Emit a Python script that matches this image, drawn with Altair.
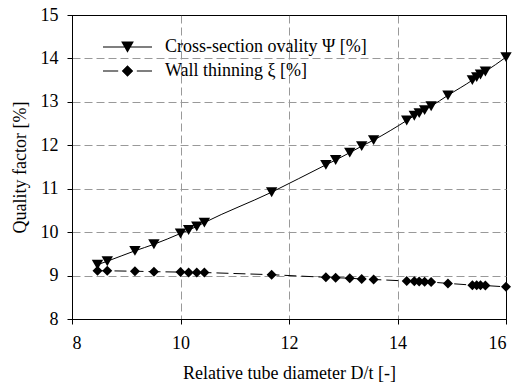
import altair as alt
import pandas as pd

# Relative tube diameter D/t
dt = [8.47, 8.65, 9.16, 9.51, 10.0, 10.15, 10.30, 10.44, 11.68, 12.68, 12.86, 13.12,
      13.34, 13.56, 14.17, 14.31, 14.40, 14.50, 14.62, 14.93, 15.38, 15.46, 15.53,
      15.62, 16.0]
# Cross-section ovality [%]
ovality = [9.25, 9.33, 9.57, 9.72, 9.97, 10.05, 10.13, 10.22, 10.92, 11.55, 11.66,
           11.83, 11.98, 12.12, 12.57, 12.68, 12.74, 12.81, 12.90, 13.15, 13.50, 13.57,
           13.63, 13.70, 14.03]
# Wall thinning [%]
thinning = [9.11, 9.11, 9.10, 9.09, 9.08, 9.07, 9.07, 9.07, 9.02, 8.96, 8.95, 8.94,
            8.92, 8.91, 8.875, 8.87, 8.865, 8.86, 8.85, 8.82, 8.78, 8.78, 8.775, 8.77,
            8.74]

series_names = ["Cross-section ovality \u03a8 [%]", "Wall thinning \u03be [%]"]
x_ticks = [8, 10, 12, 14, 16]
y_ticks = [8, 9, 10, 11, 12, 13, 14, 15]

FONT = "Liberation Serif"

df = pd.DataFrame({
    "dt": dt * 2,
    "value": ovality + thinning,
    "series": [series_names[0]] * len(dt) + [series_names[1]] * len(dt),
})


def frame_cond(lo, hi, inner, edge):
    # grid lines lying on the frame are drawn solid black, inner ones dashed grey
    return {"condition": {"test": f"datum.value == {lo} || datum.value == {hi}",
                          "value": edge}, "value": inner}


x = alt.X("dt:Q", scale=alt.Scale(domain=[8, 16], nice=False),
          axis=alt.Axis(values=x_ticks, title="Relative tube diameter D/t [-]",
                        labelFont=FONT, titleFont=FONT,
                        gridColor=frame_cond(8, 16, "#999999", "black"),
                        gridDash=frame_cond(8, 16, [8, 4], [1, 0])))
y = alt.Y("value:Q", scale=alt.Scale(domain=[8, 15], nice=False),
          axis=alt.Axis(values=y_ticks, title="Quality factor [%]",
                        labelFont=FONT, titleFont=FONT,
                        gridColor=frame_cond(8, 15, "#999999", "black"),
                        gridDash=frame_cond(8, 15, [8, 4], [1, 0])))

base = alt.Chart(df)
ov = base.transform_filter(alt.datum.series == series_names[0])
th = base.transform_filter(alt.datum.series == series_names[1])

ov_line = ov.mark_line(color="black", strokeWidth=1, interpolate="monotone").encode(x=x, y=y)
th_line = th.mark_line(color="black", strokeWidth=1, strokeDash=[12, 5]).encode(x=x, y=y)

tri = ov.mark_point(shape="triangle-down", size=130, filled=True, color="black",
                    opacity=1).encode(x=x, y=y)
dia = th.mark_point(shape="diamond", size=100, filled=True, color="black",
                    opacity=1).encode(x=x, y=y)

# Legend symbols: thin filled bars for the line plus the marker, one path each
tri_path = ("M-1,-0.022H1V0.022H-1Z"
            "M-0.26,-0.22H0.26L0,0.23Z")
dia_path = ("M-1,-0.022H-0.38V0.022H-1Z"
            "M0.38,-0.022H1V0.022H0.38Z"
            "M0,-0.235L0.235,0L0,0.235L-0.235,0Z")

legend_layer = base.mark_point(
    filled=True, color="black", opacity=0
).encode(
    x=x, y=y,
    shape=alt.Shape(
        "series:N",
        scale=alt.Scale(domain=series_names, range=[tri_path, dia_path]),
        legend=alt.Legend(
            title=None, orient="none", legendX=31, legendY=22,
            symbolSize=2401, symbolFillColor="black", symbolOpacity=1,
            symbolStrokeWidth=0,
            labelFont=FONT, labelFontSize=18, labelColor="black", labelOffset=13,
            labelLimit=0, clipHeight=20, rowPadding=4, padding=0,
        ),
    ),
)

chart = alt.layer(ov_line, th_line, tri, dia, legend_layer).properties(
    width=434, height=304,
    padding={"left": 72, "top": 15, "right": 10, "bottom": 68},
    autosize=alt.AutoSizeParams(type="none"),
    background="white",
).configure(
    font=FONT
).configure_view(
    stroke="black", strokeWidth=1
).configure_axis(
    domainColor="black", domainWidth=1, tickColor="black", tickSize=5, tickWidth=1,
    labelFont=FONT, labelFontSize=18, labelColor="black",
    titleFont=FONT, titleFontSize=18, titleFontWeight="normal", titleColor="black",
    grid=True, gridWidth=1, gridOpacity=1,
).configure_axisX(
    labelPadding=10, titlePadding=12
).configure_axisY(
    labelPadding=9, titlePadding=11
)

chart.save("out.html", embed_options={"renderer": "svg", "actions": False})
